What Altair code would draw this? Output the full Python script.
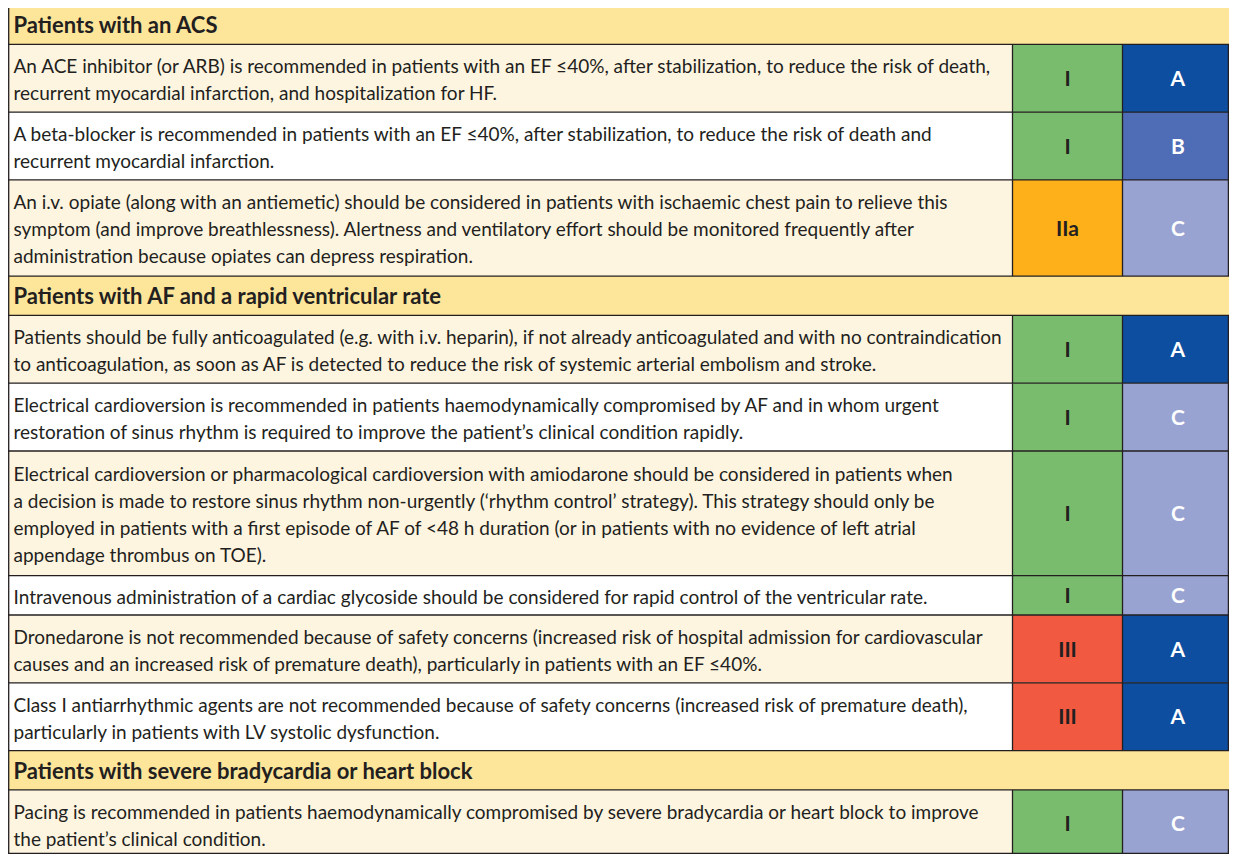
import altair as alt
import pandas as pd

# ---------------- data ----------------
section_titles = [
    "Patients with an ACS",
    "Patients with AF and a rapid ventricular rate",
    "Patients with severe bradycardia or heart block",
]

row_section = [0, 0, 0, 1, 1, 1, 1, 1, 1, 2]

row_lines = [
    ["An ACE inhibitor (or ARB) is recommended in patients with an EF \u226440%, after stabilization, to reduce the risk of death,",
     "recurrent myocardial infarction, and hospitalization for HF."],
    ["A beta-blocker is recommended in patients with an EF \u226440%, after stabilization, to reduce the risk of death and",
     "recurrent myocardial infarction."],
    ["An i.v. opiate (along with an antiemetic) should be considered in patients with ischaemic chest pain to relieve this",
     "symptom (and improve breathlessness). Alertness and ventilatory effort should be monitored frequently after",
     "administration because opiates can depress respiration."],
    ["Patients should be fully anticoagulated (e.g. with i.v. heparin), if not already anticoagulated and with no contraindication",
     "to anticoagulation, as soon as AF is detected to reduce the risk of systemic arterial embolism and stroke."],
    ["Electrical cardioversion is recommended in patients haemodynamically compromised by AF and in whom urgent",
     "restoration of sinus rhythm is required to improve the patient\u2019s clinical condition rapidly."],
    ["Electrical cardioversion or pharmacological cardioversion with amiodarone should be considered in patients when",
     "a decision is made to restore sinus rhythm non-urgently (\u2018rhythm control\u2019 strategy). This strategy should only be",
     "employed in patients with a first episode of AF of <48 h duration (or in patients with no evidence of left atrial",
     "appendage thrombus on TOE)."],
    ["Intravenous administration of a cardiac glycoside should be considered for rapid control of the ventricular rate."],
    ["Dronedarone is not recommended because of safety concerns (increased risk of hospital admission for cardiovascular",
     "causes and an increased risk of premature death), particularly in patients with an EF \u226440%."],
    ["Class I antiarrhythmic agents are not recommended because of safety concerns (increased risk of premature death),",
     "particularly in patients with LV systolic dysfunction."],
    ["Pacing is recommended in patients haemodynamically compromised by severe bradycardia or heart block to improve",
     "the patient\u2019s clinical condition."],
]

row_class = ["I", "I", "IIa", "I", "I", "I", "I", "III", "III", "I"]
row_level = ["A", "B", "C", "A", "C", "C", "C", "A", "A", "C"]

# ---------------- styles ----------------
CLASS_COLORS = {"I": "#79BC6E", "IIa": "#FDB019", "III": "#F15A40"}
LEVEL_COLORS = {"A": "#0D4EA1", "B": "#4F6CB6", "C": "#98A3D1"}
HEADER_FILL = "#FDE59A"
CREAM = "#FEF5E1"
WHITE = "#FFFFFF"
INK = "#231F20"
FONT = "Lato"
BODY_SIZE = 19
HEAD_SIZE = 22
MARK_SIZE = 21

# ---------------- layout (page pixels) ----------------
VIEW_X0, VIEW_X1 = 8, 1229
VIEW_Y0, VIEW_Y1 = 8, 854
X_LEFT = 8.7
X_TEXT = 13.5
X_C1 = 1012.5
X_C2 = 1122.5
X_R = 1233.3
X_R_DRAW = 1228.4
X_END = 1237.0
TOP = 5.0
HEADER_H = 39.3
ROW_PAD = 11.0
LINE_STEP = 28.4
LINE_GAP = 27.0
BASE_OFF = 8.3
Y_BOTTOM_DRAW = 853.4

rects, hlines, vlines = [], [], []
body_txt, head_txt, class_txt, level_txt = [], [], [], []

y = TOP
cur_section = None
idx_in_section = 0
for r, sec in enumerate(row_section):
    if sec != cur_section:
        cur_section = sec
        idx_in_section = 0
        y2 = y + HEADER_H
        rects.append({"x": X_LEFT, "x2": X_END, "y": y, "y2": y2, "fill": HEADER_FILL})
        head_txt.append({"x": X_TEXT, "y": (y + y2) / 2 + BASE_OFF, "t": section_titles[sec]})
        hlines.append({"x": 0, "x2": X_END, "y": y2})
        y = y2
    lines = row_lines[r]
    n = len(lines)
    h = ROW_PAD + LINE_STEP * n
    y2 = y + h
    c = (y + y2) / 2
    bg = CREAM if idx_in_section % 2 == 0 else WHITE
    rects.append({"x": X_LEFT, "x2": X_C1, "y": y, "y2": y2, "fill": bg})
    rects.append({"x": X_C1, "x2": X_C2, "y": y, "y2": y2, "fill": CLASS_COLORS[row_class[r]]})
    rects.append({"x": X_C2, "x2": X_R_DRAW, "y": y, "y2": y2, "fill": LEVEL_COLORS[row_level[r]]})
    for i, ln in enumerate(lines):
        body_txt.append({"x": X_TEXT, "y": c + BASE_OFF + LINE_GAP * (i - (n - 1) / 2), "t": ln})
    class_txt.append({"x": (X_C1 + X_C2) / 2, "y": c + 7.6, "t": row_class[r]})
    level_txt.append({"x": (X_C2 + X_R) / 2, "y": c + 7.6, "t": row_level[r]})
    for xv in (X_C1, X_C2, X_R_DRAW):
        vlines.append({"x": xv, "y": y, "y2": y2})
    hlines.append({"x": 0, "x2": X_END, "y": min(y2, Y_BOTTOM_DRAW)})
    y = y2
    idx_in_section += 1

vlines.append({"x": X_LEFT, "y": TOP, "y2": min(y, Y_BOTTOM_DRAW)})

# ---------------- chart ----------------
W, H = VIEW_X1 - VIEW_X0, VIEW_Y1 - VIEW_Y0
xs = alt.Scale(domain=[VIEW_X0, VIEW_X1], nice=False, zero=False)
ys = alt.Scale(domain=[VIEW_Y0, VIEW_Y1], nice=False, zero=False, reverse=True)


def X(f):
    return alt.X(f"{f}:Q", scale=xs, axis=None)


def Y(f):
    return alt.Y(f"{f}:Q", scale=ys, axis=None)


rect_layer = alt.Chart(pd.DataFrame(rects)).mark_rect(strokeWidth=0, clip=True).encode(
    x=X("x"), x2="x2:Q", y=Y("y"), y2="y2:Q",
    color=alt.Color("fill:N", scale=None),
)

hline_layer = alt.Chart(pd.DataFrame(hlines)).mark_rule(color=INK, strokeWidth=1.3, clip=True).encode(
    x=X("x"), x2="x2:Q", y=Y("y"),
)
vline_layer = alt.Chart(pd.DataFrame(vlines)).mark_rule(color=INK, strokeWidth=1.3, clip=True).encode(
    x=X("x"), y=Y("y"), y2="y2:Q",
)

body_layer = alt.Chart(pd.DataFrame(body_txt)).mark_text(
    align="left", baseline="alphabetic", font=FONT, fontSize=BODY_SIZE, color=INK
).encode(x=X("x"), y=Y("y"), text="t:N")

head_layer = alt.Chart(pd.DataFrame(head_txt)).mark_text(
    align="left", baseline="alphabetic", font=FONT, fontSize=HEAD_SIZE, fontWeight="bold", color=INK
).encode(x=X("x"), y=Y("y"), text="t:N")

class_layer = alt.Chart(pd.DataFrame(class_txt)).mark_text(
    align="center", baseline="alphabetic", font=FONT, fontSize=MARK_SIZE, fontWeight="bold", color=INK
).encode(x=X("x"), y=Y("y"), text="t:N")

level_layer = alt.Chart(pd.DataFrame(level_txt)).mark_text(
    align="center", baseline="alphabetic", font=FONT, fontSize=MARK_SIZE, fontWeight="bold", color="#FFFFFF"
).encode(x=X("x"), y=Y("y"), text="t:N")

chart = alt.layer(
    rect_layer, hline_layer, vline_layer, body_layer, head_layer, class_layer, level_layer
).properties(
    width=W, height=H, autosize=alt.AutoSizeParams(type="none"), padding=0, background="#FFFFFF"
).configure_view(stroke=None)

chart.save("out.html", embed_options={"renderer": "svg", "actions": False})
